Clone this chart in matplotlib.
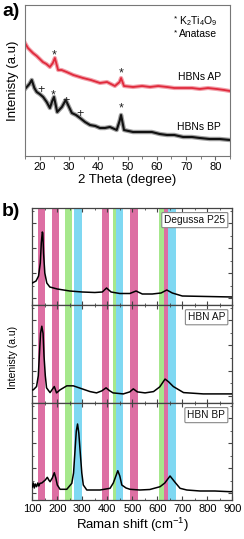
import numpy as np
import matplotlib
matplotlib.use('Agg')
import matplotlib.pyplot as plt
from matplotlib.ticker import MultipleLocator

plt.rcParams['font.family'] = ['Liberation Sans', 'DejaVu Sans']
plt.rcParams['mathtext.fontset'] = 'custom'
plt.rcParams['mathtext.rm'] = 'Liberation Sans'
plt.rcParams['mathtext.it'] = 'Liberation Sans'

# ---------------- (a) XRD data ----------------
xrd_ap_x = [15, 16, 17.7, 19, 21.1, 22.3, 23.5, 24.5, 25.2, 26.3, 27.5, 29.2, 31.5, 34.8, 37.5, 40.6, 43, 45.7,
            47.3, 47.8, 48.8, 51.9, 55, 57.7, 60.5, 63.5, 66, 69, 72, 74.7, 77.5, 80.5, 83, 85]
xrd_ap_y = [113, 108, 103, 100, 94, 92, 89, 93, 98, 86, 86, 84, 81, 78, 76, 73, 74, 70,
            74, 78, 70, 69, 70, 69, 70, 69, 68, 68, 68, 67, 68, 67, 66, 65]
xrd_bp_x = [15.3, 16.5, 17.3, 18.2, 19, 20, 21.2, 22.4, 23.5, 24.3, 24.9, 26, 27.6, 28.9, 31,
            32.4, 33.8, 35.5, 37.2, 39, 40.6, 42.3, 44, 46.3, 47.3, 47.8, 48.8, 51.9, 55, 58.3,
            61, 63.5, 66, 69, 72, 74.7, 78, 81.5, 85]
xrd_bp_y = [68, 72, 76, 68, 64, 62, 59, 54, 48, 55, 59, 44, 49, 56, 43,
            41, 38, 34, 31, 30, 28, 28, 29, 26, 35, 41, 26, 24, 24, 24,
            22, 21, 21, 19, 19, 18, 17, 17, 16]

star_ap = [(24.9, 101), (47.8, 83)]
star_bp = [(24.6, 61), (47.8, 48)]
plus_bp = [(20.4, 66), (28.9, 55), (33.8, 42)]

# ---------------- (b) Raman data ----------------
p25_x = [100, 115, 125, 132, 136, 140, 142, 145, 150, 158, 170, 200, 250, 300, 350,
         380, 397, 415, 450, 490, 515, 540, 580, 615, 638, 660, 700, 800, 900]
p25_y = [0.15, 0.17, 0.22, 0.35, 0.55, 0.66, 0.65, 0.45, 0.25, 0.15, 0.11, 0.09, 0.07, 0.06, 0.055,
         0.06, 0.10, 0.06, 0.045, 0.045, 0.07, 0.04, 0.04, 0.05, 0.08, 0.05, 0.02, 0.015, 0.01]

ap_x = [100, 104, 117, 124, 128, 133, 138, 143, 147, 152, 157, 171, 188, 197, 211, 238, 264,
        291, 331, 357, 378, 395, 410, 423, 464, 490, 504, 520, 551, 585, 610, 631, 645,
        664, 705, 784, 900]
ap_y = [0.06, 0.06, 0.093, 0.2, 0.39, 0.62, 0.69, 0.62, 0.39, 0.2, 0.08, 0.033, 0.093, 0.03, 0.06, 0.10, 0.10,
        0.077, 0.043, 0.03, 0.05, 0.08, 0.05, 0.03, 0.02, 0.04, 0.07, 0.04, 0.03, 0.043, 0.09, 0.167, 0.14,
        0.093, 0.033, 0.02, 0.02]

bp_x = [100, 104, 108, 112, 117, 122, 126, 131, 138, 144, 152, 160, 166, 171, 180, 188, 194,
        200, 211, 238, 258, 265, 271, 276, 281, 286, 291, 298, 304, 318, 371, 411, 424, 431,
        442, 450, 458, 475, 491, 530, 570, 611, 630, 651, 670, 691, 718, 771, 830, 891, 900]
bp_y = [0.06, 0.10, 0.05, 0.09, 0.063, 0.10, 0.07, 0.097, 0.10, 0.113, 0.13, 0.157, 0.13, 0.113, 0.15, 0.203, 0.15,
        0.08, 0.037, 0.037, 0.097, 0.2, 0.43, 0.62, 0.69, 0.6, 0.43, 0.2, 0.08, 0.03, 0.03, 0.047, 0.1, 0.147,
        0.223, 0.17, 0.08, 0.05, 0.037, 0.03, 0.035, 0.063, 0.1, 0.17, 0.11, 0.047, 0.03, 0.02, 0.02, 0.013, 0.015]

band_lo = [124, 177, 231, 267, 378, 424, 435, 491, 607, 625, 642]
band_hi = [151, 207, 258, 298, 407, 435, 462, 521, 625, 642, 674]
band_kind = ['p', 'p', 'g', 'c', 'p', 'g', 'c', 'p', 'g', 'p', 'c']
band_colors = {'p': '#dd6fa3', 'g': '#a6e88c', 'c': '#7fd8f2'}

raman_series = [(p25_x, p25_y, 'Degussa P25'),
                (ap_x, ap_y, 'HBN AP'),
                (bp_x, bp_y, 'HBN BP')]

W, H = 244, 539
fig = plt.figure(figsize=(W / 100, H / 100), dpi=100)

# ---- (a) ----
axa = fig.add_axes([25 / W, 1 - 156 / H, 205 / W, 151 / H])
axa.plot(xrd_ap_x, xrd_ap_y, color='#f2a0aa', lw=3.0, solid_joinstyle='round')
axa.plot(xrd_ap_x, xrd_ap_y, color='#e02a3c', lw=1.3)
axa.plot(xrd_bp_x, xrd_bp_y, color='#a0a0a0', lw=3.2, solid_joinstyle='round')
axa.plot(xrd_bp_x, xrd_bp_y, color='#111111', lw=1.5)
for x, y in star_ap + star_bp:
    axa.text(x, y, '*', ha='center', va='center', fontsize=9, color='#222222')
for x, y in plus_bp:
    axa.text(x, y, '+', ha='center', va='center', fontsize=9, color='#222222')
axa.set_xlim(15, 85)
axa.set_ylim(0, 151)
axa.xaxis.set_major_locator(MultipleLocator(10))
axa.xaxis.set_minor_locator(MultipleLocator(5))
axa.set_yticks([])
axa.tick_params(axis='x', which='major', direction='out', length=3, labelsize=8, pad=1.5, color='#666666')
axa.tick_params(axis='x', which='minor', direction='out', length=2, color='#666666')
for s in axa.spines.values():
    s.set_color('#777777')
    s.set_linewidth(0.8)
axa.set_xlabel('2 Theta (degree)', fontsize=9.5, labelpad=1)
axa.set_ylabel('Intenisty (a.u)', fontsize=9.5, labelpad=4)
axa.text(0.74, 0.905, '*', transform=axa.transAxes, fontsize=6, ha='right', va='center')
axa.text(0.75, 0.895, 'K$_2$Ti$_4$O$_9$', transform=axa.transAxes, fontsize=7.5, ha='left', va='center')
axa.text(0.74, 0.815, '*', transform=axa.transAxes, fontsize=6, ha='right', va='center')
axa.text(0.75, 0.805, 'Anatase', transform=axa.transAxes, fontsize=7.5, ha='left', va='center')
axa.text(0.745, 0.52, 'HBNs AP', transform=axa.transAxes, fontsize=7.5, ha='left', va='center')
axa.text(0.74, 0.19, 'HBNs BP', transform=axa.transAxes, fontsize=7.5, ha='left', va='center')
fig.text(2 / W, 1 - 12 / H, 'a)', fontsize=14, fontweight='bold', va='center', ha='left')

# ---- (b) ----
tops = [208, 305, 403]
bots = [305, 403, 500]
axes_b = []
for (xs, ys, name), t, b in zip(raman_series, tops, bots):
    ax = fig.add_axes([32.3 / W, 1 - b / H, 200 / W, (b - t) / H])
    for lo, hi, k in zip(band_lo, band_hi, band_kind):
        ax.axvspan(lo, hi, color=band_colors[k], lw=0, zorder=0)
    ax.plot(xs, ys, color='black', lw=1.1, zorder=3)
    ax.set_xlim(100, 900)
    ax.set_ylim(-0.07, 0.90)
    ax.xaxis.set_major_locator(MultipleLocator(100))
    ax.xaxis.set_minor_locator(MultipleLocator(50))
    ax.yaxis.set_major_locator(MultipleLocator(0.25))
    ax.yaxis.set_minor_locator(MultipleLocator(0.125))
    ax.tick_params(which='both', direction='in', top=True, right=True, labelleft=False,
                   labelbottom=False, color='#444444')
    ax.tick_params(which='major', length=3)
    ax.tick_params(which='minor', length=1.5)
    for s in ax.spines.values():
        s.set_color('#444444')
        s.set_linewidth(0.9)
    ax.text(0.965, 0.875, name, transform=ax.transAxes, fontsize=7.3, ha='right', va='center',
            color='#111111', zorder=5,
            bbox=dict(boxstyle='round,pad=0.25,rounding_size=0.1', fc='white', ec='#888888', lw=0.8))
    axes_b.append(ax)

axes_b[-1].tick_params(labelbottom=True, labelsize=8, pad=3)
axes_b[-1].set_xlabel('Raman shift (cm$^{-1}$)', fontsize=9.5, labelpad=1)
fig.text(13 / W, 1 - 357 / H, 'Intenisty (a.u)', rotation=90, fontsize=7.5, ha='center', va='center')
fig.text(2 / W, 1 - 212 / H, 'b)', fontsize=14, fontweight='bold', va='center', ha='left')

fig.savefig('out.png', dpi=100)
